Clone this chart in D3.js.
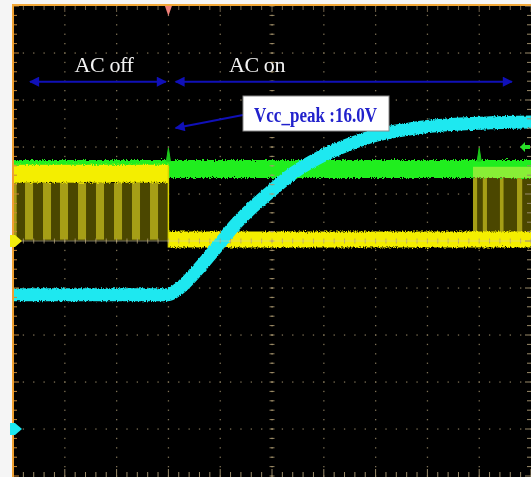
<!DOCTYPE html>
<html>
<head>
<meta charset="utf-8">
<script src="https://cdn.jsdelivr.net/npm/d3@7"></script>
<style>
  html, body { margin: 0; padding: 0; background: #f4f4f4; }
  svg { display: block; }
</style>
</head>
<body>
<svg id="scope" width="531" height="477"></svg>
<script>
// ---- Acquisition data (time in horizontal divisions, trigger at 3.0 div) ----
const timeDiv   = [0, 2.99, 3.22, 3.61, 3.94, 4.25, 4.63, 4.96, 5.41, 5.93, 6.45, 7.03, 7.61, 8.05, 8.63, 9.21, 10];
// CH2 (cyan) Vcc in volts
const vccVolts  = [7.0, 7.0, 7.35, 8.44, 9.49, 10.53, 11.57, 12.35, 13.34, 14.18, 14.80, 15.33, 15.62, 15.78, 15.90, 15.96, 16.0];
const vccPerDiv = 2.45;        // V/div
const vccGroundDiv = -4.0;     // ground marker position, divisions
const vccPeak = 16.0;

// CH3 (green) steady level, divisions
const greenTime  = [0, 10];
const greenLevel = [1.53, 1.53];
const greenSpikes = [3.0, 9.0];   // glitch positions

// CH1 (yellow) gate drive: switching bursts and the idle low level (divisions)
const yellowHigh = 1.43;
const yellowLow  = 0.03;
const yellowBursts = [[0, 3.0], [8.88, 10]];
// bright stripe starts and widths (divisions) inside the bursts
const stripeStart = [0, 0.232, 0.579, 0.907, 1.255, 1.602, 1.950, 2.297, 2.645, 8.88, 9.07, 9.40, 9.73];
const stripeWidth = [0.07, 0.155, 0.155, 0.155, 0.155, 0.155, 0.155, 0.155, 0.155, 0.08, 0.08, 0.07, 0.1];

// Annotation spans (divisions)
const acOffSpan = [0.33, 2.95];
const acOnSpan  = [3.14, 9.63];
const labels = ["AC off", "AC on", "Vcc_peak :16.0V"];

// ---- Layout ----
const W = 531, H = 477;
const plot = { left: 13, right: 531, top: 6, bottom: 476 };
const x = d3.scaleLinear().domain([0, 10]).range([plot.left, plot.right]);
const y = d3.scaleLinear().domain([-5, 5]).range([plot.bottom, plot.top]);
const yV = v => y(vccGroundDiv + v / vccPerDiv);

const svg = d3.select("#scope");
const defs = svg.append("defs");

// noisy trace edges
function fuzzFilter(id, freq, scale, seed) {
  const f = defs.append("filter").attr("id", id)
    .attr("filterUnits", "userSpaceOnUse")
    .attr("x", 0).attr("y", 0).attr("width", W).attr("height", H)
    .attr("color-interpolation-filters", "sRGB");
  f.append("feTurbulence").attr("type", "fractalNoise").attr("baseFrequency", freq)
    .attr("numOctaves", 2).attr("seed", seed).attr("result", "n");
  f.append("feColorMatrix").attr("in", "n").attr("type", "matrix")
    .attr("values", "1 0 0 0 0  0 0 0 0 0.5  0 0 0 0 0  0 0 0 0 1").attr("result", "m");
  f.append("feDisplacementMap").attr("in", "SourceGraphic").attr("in2", "m")
    .attr("scale", scale).attr("xChannelSelector", "G").attr("yChannelSelector", "R").attr("result", "d");
  f.append("feGaussianBlur").attr("in", "d").attr("stdDeviation", 0.5);
}
fuzzFilter("fuzz", "1.1 0.6", 5, 4);
fuzzFilter("fuzzc", "0.8 0.4", 4, 7);

const soft = defs.append("filter").attr("id", "soft")
  .attr("filterUnits", "userSpaceOnUse").attr("x", 0).attr("y", 0).attr("width", W).attr("height", H);
soft.append("feGaussianBlur").attr("stdDeviation", 0.45);

// arrow heads
defs.append("marker").attr("id", "ah").attr("viewBox", "0 0 10 10")
  .attr("refX", 9).attr("refY", 5).attr("markerWidth", 6).attr("markerHeight", 5)
  .attr("orient", "auto-start-reverse").attr("markerUnits", "strokeWidth")
  .append("path").attr("d", "M0,0 L10,5 L0,10 Z").attr("fill", "#1010b8");

// background and screen
svg.append("rect").attr("width", W).attr("height", H).attr("fill", "#f5f5f5");
svg.append("rect").attr("x", plot.left).attr("y", plot.top - 1)
  .attr("width", plot.right - plot.left + 2).attr("height", plot.bottom - plot.top + 3).attr("fill", "#000");

// ---- Graticule ----
const grid = svg.append("g").attr("filter", "url(#soft)");
const minor = d3.range(0, 50.01, 1).map(i => i * 0.2);
const minorY = d3.range(-25, 25.01, 1).map(i => i * 0.2);
[1, 2, 3, 4, 6, 7, 8, 9].forEach(k => {
  grid.selectAll(null).data(minorY).join("rect")
    .attr("x", x(k) - 0.6).attr("y", d => y(d) - 0.6).attr("width", 1.3).attr("height", 1.3)
    .attr("fill", "#7d7054");
});
[-4, -3, -2, -1, 1, 2, 3, 4].forEach(j => {
  grid.selectAll(null).data(minor).join("rect")
    .attr("x", d => x(d) - 0.6).attr("y", y(j) - 0.6).attr("width", 1.3).attr("height", 1.3)
    .attr("fill", "#7d7054");
});

// ---- Traces ----
const traces = svg.append("g");
const burstTop = i => i === 0 ? y(yellowHigh) + 9 : y(greenLevel[0]) + 9;

// yellow switching bursts
yellowBursts.forEach(([t0, t1], i) => {
  traces.append("rect").attr("x", x(t0)).attr("y", burstTop(i))
    .attr("width", x(t1) - x(t0)).attr("height", y(yellowLow) - burstTop(i) + (i === 0 ? 1 : 0))
    .attr("fill", "#4c4600").attr("filter", "url(#soft)");
});
traces.selectAll("rect.stripe").data(stripeStart).join("rect").attr("class", "stripe")
  .attr("x", d => x(d))
  .attr("y", d => burstTop(d < 5 ? 0 : 1))
  .attr("width", (d, i) => x(stripeWidth[i]) - x(0))
  .attr("height", d => y(yellowLow) - burstTop(d < 5 ? 0 : 1))
  .attr("fill", "#a69e14").attr("filter", "url(#soft)");

// green band
const line = d3.line().x(d => x(d[0])).y(d => y(d[1]));
traces.append("path").datum(greenTime.map((t, i) => [t, greenLevel[i]]))
  .attr("d", line).attr("stroke", "#20ee1e").attr("stroke-width", 18).attr("fill", "none")
  .attr("filter", "url(#fuzz)");
traces.selectAll("path.spike").data(greenSpikes).join("path").attr("class", "spike")
  .attr("d", d => `M${x(d) - 2},${y(greenLevel[0]) - 8} L${x(d)},${y(greenLevel[0]) - 21} L${x(d) + 2},${y(greenLevel[0]) - 8} Z`)
  .attr("fill", "#1cc81a").attr("stroke", "#1cc81a").attr("stroke-width", 1);

// yellow over the green during the second burst
const b2 = yellowBursts[1];
traces.append("rect").attr("x", x(b2[0])).attr("y", y(yellowHigh) - 7)
  .attr("width", x(b2[1]) - x(b2[0])).attr("height", y(greenLevel[0]) + 9 - (y(yellowHigh) - 7))
  .attr("fill", "#f0f050").attr("opacity", 0.5).attr("filter", "url(#soft)");

// yellow high level during first burst, low level afterwards
traces.append("path").datum([[yellowBursts[0][0], yellowHigh], [yellowBursts[0][1], yellowHigh]])
  .attr("d", line).attr("stroke", "#f4ee00").attr("stroke-width", 18).attr("fill", "none")
  .attr("filter", "url(#fuzz)");
traces.append("path").datum([[yellowBursts[0][1], yellowLow], [10, yellowLow]])
  .attr("d", line).attr("stroke", "#f4ee00").attr("stroke-width", 16).attr("fill", "none")
  .attr("filter", "url(#fuzz)");
traces.append("line")
  .attr("x1", x(yellowBursts[0][1])).attr("x2", x(yellowBursts[0][1]))
  .attr("y1", y(yellowHigh) - 8).attr("y2", y(yellowLow) + 8)
  .attr("stroke", "#d8d200").attr("stroke-width", 1.5);

// cyan Vcc
const vccLine = d3.line().curve(d3.curveMonotoneX).x(d => x(d[0])).y(d => yV(d[1]));
traces.append("path").datum(timeDiv.map((t, i) => [t, vccVolts[i]]))
  .attr("d", vccLine).attr("stroke", "#1ee8f0").attr("stroke-width", 13).attr("fill", "none")
  .attr("stroke-linejoin", "round").attr("filter", "url(#fuzzc)");

// ---- Center axes and border ticks (drawn over the traces) ----
const ax = svg.append("g").attr("filter", "url(#soft)");
ax.selectAll(null).data(minorY).join("line")
  .attr("x1", x(5) - 2.5).attr("x2", x(5) + 2.5).attr("y1", d => y(d)).attr("y2", d => y(d))
  .attr("stroke", "#a8966e").attr("stroke-width", 1).attr("opacity", 0.85);
ax.selectAll(null).data(minor).join("line")
  .attr("y1", y(0) - 2.5).attr("y2", y(0) + 2.5).attr("x1", d => x(d)).attr("x2", d => x(d))
  .attr("stroke", "#b09c70").attr("stroke-width", 1).attr("opacity", 0.8);
ax.append("line").attr("x1", x(0)).attr("x2", x(10)).attr("y1", y(0)).attr("y2", y(0))
  .attr("stroke", "#d8d0a8").attr("stroke-width", 1).attr("opacity", 0.55);
ax.selectAll(null).data(minorY).join("rect")
  .attr("x", x(5) - 0.6).attr("y", d => y(d) - 0.6).attr("width", 1.3).attr("height", 1.3)
  .attr("fill", "#a8966e");

// bottom ticks
ax.selectAll(null).data(minor).join("line")
  .attr("x1", d => x(d)).attr("x2", d => x(d))
  .attr("y1", plot.bottom + 1).attr("y2", (d, i) => plot.bottom + 1 - (i % 5 === 0 ? 8 : 5))
  .attr("stroke", "#9a8a68").attr("stroke-width", 1);
// top ticks
ax.selectAll(null).data(minor).join("line")
  .attr("x1", d => x(d)).attr("x2", d => x(d))
  .attr("y1", plot.top).attr("y2", (d, i) => plot.top + (i % 5 === 0 ? 6 : 4))
  .attr("stroke", "#6e6048").attr("stroke-width", 1);
// left ticks
ax.selectAll(null).data(minorY).join("line")
  .attr("y1", d => y(d)).attr("y2", d => y(d))
  .attr("x1", plot.left).attr("x2", (d, i) => plot.left + (i % 5 === 0 ? 6 : 4))
  .attr("stroke", "#c88838").attr("stroke-width", 1);
// right ticks
ax.selectAll(null).data(minorY).join("line")
  .attr("y1", d => y(d)).attr("y2", d => y(d))
  .attr("x1", plot.right).attr("x2", (d, i) => plot.right - (i % 5 === 0 ? 6 : 4))
  .attr("stroke", "#9a8a68").attr("stroke-width", 1);

// screen frame (left and top edges)
svg.append("line").attr("x1", plot.left).attr("x2", plot.left).attr("y1", plot.top - 1).attr("y2", H)
  .attr("stroke", "#f0a030").attr("stroke-width", 2);
svg.append("line").attr("x1", plot.left - 1).attr("x2", W).attr("y1", plot.top - 1).attr("y2", plot.top - 1)
  .attr("stroke", "#f2a838").attr("stroke-width", 2.2);

// trigger position marker
svg.append("path")
  .attr("d", `M${x(3) - 3.5},${plot.top} L${x(3) + 3.5},${plot.top} L${x(3)},${plot.top + 10} Z`)
  .attr("fill", "#f08078");

// channel ground markers on the left edge
function gndMarker(yy, color) {
  svg.append("path")
    .attr("d", `M${plot.left - 3},${yy - 6} L${plot.left + 2},${yy - 6} L${plot.left + 9},${yy} L${plot.left + 2},${yy + 6} L${plot.left - 3},${yy + 6} Z`)
    .attr("fill", color).attr("filter", "url(#soft)");
}
gndMarker(y(0), "#f4ee10");
gndMarker(y(vccGroundDiv), "#1ee8f0");

// green trigger-level marker on the right edge
svg.append("path")
  .attr("d", `M${plot.right - 1},${y(2.0) - 2} L${plot.right - 6},${y(2.0) - 2} L${plot.right - 6},${y(2.0) - 5} L${plot.right - 11},${y(2.0)} L${plot.right - 6},${y(2.0) + 5} L${plot.right - 6},${y(2.0) + 2} L${plot.right - 1},${y(2.0) + 2} Z`)
  .attr("fill", "#28e028");

// ---- Annotations ----
const ann = svg.append("g");
const arrowY = y(3.39);
[acOffSpan, acOnSpan].forEach(s => {
  ann.append("line").attr("x1", x(s[0])).attr("x2", x(s[1])).attr("y1", arrowY).attr("y2", arrowY)
    .attr("stroke", "#1010b8").attr("stroke-width", 2)
    .attr("marker-start", "url(#ah)").attr("marker-end", "url(#ah)");
});
const serif = "'Liberation Serif', 'Times New Roman', serif";
ann.append("text").attr("x", 104).attr("y", y(3.6))
  .attr("text-anchor", "middle").attr("font-family", serif)
  .attr("font-size", 22).attr("fill", "#f2f2f2").attr("letter-spacing", -0.4).text(labels[0]);
ann.append("text").attr("x", 257).attr("y", y(3.6))
  .attr("text-anchor", "middle").attr("font-family", serif)
  .attr("font-size", 22).attr("fill", "#f2f2f2").attr("letter-spacing", -0.4).text(labels[1]);

// peak value call-out
const box = { x0: 243, x1: 389, y0: 96, y1: 131 };
ann.append("line").attr("x1", box.x0).attr("y1", 115).attr("x2", x(acOnSpan[0])).attr("y2", 128)
  .attr("stroke", "#1010b8").attr("stroke-width", 2).attr("marker-end", "url(#ah)");
ann.append("rect").attr("x", box.x0).attr("y", box.y0).attr("width", box.x1 - box.x0).attr("height", box.y1 - box.y0)
  .attr("fill", "#ffffff").attr("stroke", "#8a8a8a").attr("stroke-width", 1);
ann.append("text").attr("x", 254).attr("y", 122)
  .attr("font-family", serif).attr("font-weight", "bold")
  .attr("font-size", 20).attr("fill", "#2222cc")
  .attr("textLength", 123).attr("lengthAdjust", "spacingAndGlyphs")
  .text(`Vcc_peak :${vccPeak.toFixed(1)}V`);
</script>
</body>
</html>
